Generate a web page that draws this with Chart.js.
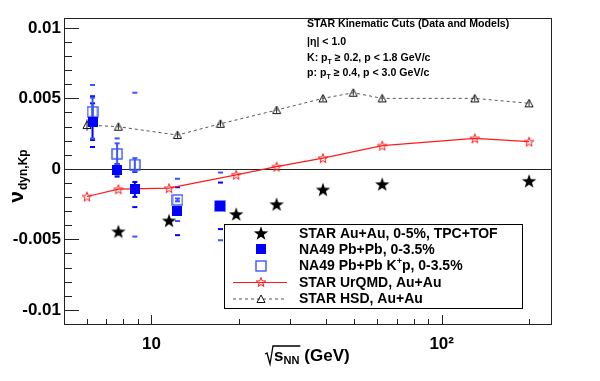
<!DOCTYPE html>
<html>
<head>
<meta charset="utf-8">
<script src="https://cdn.jsdelivr.net/npm/chart.js@4.4.0/dist/chart.umd.min.js"></script>
<style>html,body{margin:0;padding:0;background:#fff;}</style>
</head>
<body>
<canvas id="chart" width="600" height="381"></canvas>
<script>
// STAR Au+Au 0-5% (TPC+TOF)
const starX = [7.7, 11.5, 19.6, 27, 39, 62.4, 200];
const starY = [-0.00443, -0.00366, -0.0032, -0.0025, -0.00146, -0.00108, -0.00085];
const starErr = [0.0003, 0.0002, 0.0002, 0.0001, 0.0001, 0.0001, 0.0001];

// NA49 Pb+Pb 0-3.5%
const na49X = [6.27, 7.62, 8.77, 12.3, 17.3];
const na49Y = [0.00335, -0.0001, -0.00146, -0.0030, -0.00262];
const na49Stat = [0.0013, 0.0003, 0.00053, 0.0001, 0.0001];
const na49Sys = [0.0018, 0.00045, 0.00125, 0.0017, 0.00165];

// NA49 Pb+Pb K+p 0-3.5%
const na49KpY = [0.00405, 0.00106, 0.0003, -0.0022, -0.00266];
const na49KpStat = [0.0010, 0.00075, 0.00046, 0.0001, 0.0001];
const na49KpSys = [0.0019, 0.0011, 0.0051, 0.0015, 0.0024];

// models
const urqmdX = [6.0, 7.7, 11.5, 19.6, 27, 39, 62.4, 130, 200];
const urqmdY = [-0.00196, -0.00144, -0.00137, -0.00042, 0.00016, 0.00076, 0.00165, 0.00217, 0.00193];
const hsdX = [6.0, 7.7, 12.3, 17.3, 27, 39, 49.6, 62.4, 130, 200];
const hsdY = [0.00311, 0.00299, 0.0024, 0.0032, 0.00417, 0.0050, 0.0054, 0.0050, 0.0050, 0.00465];
const hsdErr = [0.0004, 0.0002, 0.0002, 0.0002, 0.0002, 0.0002, 0.0002, 0.0002, 0.0002, 0.0002];

// axes
const xTicks = [5, 6, 7, 8, 9, 10, 20, 30, 40, 50, 60, 70, 80, 90, 100, 200];
const xLabelValues = [10, 100];
const xLabels = ['10', '10\u00b2'];
const yMajor = [-0.01, -0.005, 0, 0.005, 0.01];
const yMajorLabels = ['-0.01', '-0.005', '0', '0.005', '0.01'];
const yMinorStep = 0.001;

const FONT = '"Liberation Sans", Arial, Helvetica, sans-serif';
const BLUE = '#0000ff';
const LBLUE = '#3a55ff';

const pts = (xs, ys) => xs.map((x, i) => ({ x: x, y: ys[i] }));

function markerCanvas(size, draw) {
    const c = document.createElement('canvas');
    c.width = c.height = size;
    draw(c.getContext('2d'), size / 2);
    return c;
}

function starPath(g, cx, cy, R) {
    g.beginPath();
    for (let i = 0; i < 10; i++) {
        const r = i % 2 ? R * 0.4 : R;
        const a = -Math.PI / 2 + i * Math.PI / 5;
        g.lineTo(cx + r * Math.cos(a), cy + r * Math.sin(a) + R * 0.1);
    }
    g.closePath();
}

const blackStar = markerCanvas(16, (g, c) => { starPath(g, c, c, 7.5); g.fillStyle = '#000'; g.fill(); });
const redStar = markerCanvas(12, (g, c) => { starPath(g, c, c, 5); g.strokeStyle = '#ff1a1a'; g.lineWidth = 1; g.stroke(); });
const fullSquare = markerCanvas(10, (g) => { g.fillStyle = BLUE; g.fillRect(0, 0, 10, 10); });
const openSquare = markerCanvas(12, (g) => { g.strokeStyle = LBLUE; g.lineWidth = 1.4; g.strokeRect(1, 1, 10, 10); });
const openTriangle = markerCanvas(10, (g) => {
    g.beginPath(); g.moveTo(5, 1); g.lineTo(9, 8.5); g.lineTo(1, 8.5); g.closePath();
    g.strokeStyle = '#111'; g.lineWidth = 1; g.stroke();
});

// error bars: stat as line with caps, sys as caps only
const errorBars = {
    id: 'errorBars',
    beforeDatasetsDraw(chart) {
        const ctx = chart.ctx, ys = chart.scales.y;
        chart.data.datasets.forEach((ds, di) => {
            if (!ds.errStat) return;
            const meta = chart.getDatasetMeta(di);
            ctx.save();
            ctx.strokeStyle = ds.errColor;
            ctx.fillStyle = ds.errColor;
            meta.data.forEach((el, i) => {
                const v = ds.data[i].y;
                const s = ds.errStat[i];
                const top = ys.getPixelForValue(v + s), bot = ys.getPixelForValue(v - s);
                ctx.lineWidth = ds.errWidth;
                ctx.beginPath(); ctx.moveTo(el.x, top); ctx.lineTo(el.x, bot); ctx.stroke();
                if (ds.errCaps) {
                    ctx.fillRect(el.x - 2.5, top - 1, 5, 2);
                    ctx.fillRect(el.x - 2.5, bot - 1, 5, 2);
                }
                if (ds.errSys) {
                    const e = ds.errSys[i];
                    ctx.fillRect(el.x - 2.5, ys.getPixelForValue(v + e) - 1, 5, 2);
                    ctx.fillRect(el.x - 2.5, ys.getPixelForValue(v - e) - 1, 5, 2);
                }
            });
            ctx.restore();
        });
    }
};

// frame, inner ticks and zero line like a ROOT canvas
const frame = {
    id: 'frame',
    beforeDatasetsDraw(chart) {
        const ctx = chart.ctx, a = chart.chartArea;
        const xs = chart.scales.x, ys = chart.scales.y;
        ctx.save();
        ctx.strokeStyle = '#222';
        ctx.lineWidth = 1;
        const y0 = Math.round(ys.getPixelForValue(0)) + 0.5;
        ctx.beginPath(); ctx.moveTo(a.left, y0); ctx.lineTo(a.right, y0); ctx.stroke();
        ys.ticks.forEach(t => {
            const major = yMajor.some(m => Math.abs(m - t.value) < 1e-9);
            const p = Math.round(ys.getPixelForValue(t.value)) + 0.5;
            ctx.beginPath(); ctx.moveTo(a.left, p); ctx.lineTo(a.left + (major ? 15 : 8), p); ctx.stroke();
        });
        xs.ticks.forEach(t => {
            const major = xLabelValues.indexOf(t.value) >= 0;
            const p = Math.round(xs.getPixelForValue(t.value)) + 0.5;
            ctx.beginPath(); ctx.moveTo(p, a.bottom); ctx.lineTo(p, a.bottom - (major ? 9 : 5)); ctx.stroke();
        });
        ctx.restore();
    },
    afterDatasetsDraw(chart) {
        const ctx = chart.ctx, a = chart.chartArea;
        ctx.save();
        ctx.strokeStyle = '#222';
        ctx.lineWidth = 1;
        ctx.strokeRect(Math.round(a.left) + 0.5, Math.round(a.top) + 0.5,
            Math.round(a.right - a.left), Math.round(a.bottom - a.top));
        ctx.restore();
    }
};

function drawRuns(ctx, x, y, runs) {
    runs.forEach(r => {
        ctx.font = 'bold ' + r.size + 'px ' + FONT;
        ctx.fillText(r.t, x, y + (r.dy || 0));
        x += ctx.measureText(r.t).width + (r.gap || 0);
    });
    return x;
}

function runsWidth(ctx, runs) {
    let w = 0;
    runs.forEach(r => { ctx.font = 'bold ' + r.size + 'px ' + FONT; w += ctx.measureText(r.t).width + (r.gap || 0); });
    return w;
}

const annotations = {
    id: 'annotations',
    afterDraw(chart) {
        const ctx = chart.ctx;
        ctx.save();
        ctx.fillStyle = '#000';
        ctx.textBaseline = 'alphabetic';

        // kinematic cuts text
        const tx = 307, fs = 10.6;
        drawRuns(ctx, tx, 27, [{ t: 'STAR Kinematic Cuts (Data and Models)', size: fs }]);
        drawRuns(ctx, tx, 45, [{ t: '|\u03b7| < 1.0', size: fs }]);
        drawRuns(ctx, tx, 61, [{ t: 'K: p', size: fs }, { t: 'T', size: 7, dy: 3, gap: 3 }, { t: '\u2265 0.2, p < 1.8 GeV/c', size: fs }]);
        drawRuns(ctx, tx, 76, [{ t: 'p: p', size: fs }, { t: 'T', size: 7, dy: 3, gap: 3 }, { t: '\u2265 0.4, p < 3.0 GeV/c', size: fs }]);

        // legend
        const L = 224, T = 224, R = 522, B = 308;
        ctx.fillStyle = '#fff';
        ctx.fillRect(L, T, R - L, B - T);
        ctx.strokeStyle = '#000';
        ctx.lineWidth = 1;
        ctx.strokeRect(L + 0.5, T + 0.5, R - L, B - T);
        const mx = 261, textX = 299;
        const rows = [232.7, 249.3, 265.5, 282, 298.5];
        ctx.strokeStyle = '#ff1a1a';
        ctx.beginPath(); ctx.moveTo(233, rows[3] + 0.5); ctx.lineTo(287, rows[3] + 0.5); ctx.stroke();
        ctx.strokeStyle = '#555';
        ctx.setLineDash([3, 3]);
        ctx.beginPath(); ctx.moveTo(233, rows[4] + 0.5); ctx.lineTo(287, rows[4] + 0.5); ctx.stroke();
        ctx.setLineDash([]);
        [blackStar, fullSquare, openSquare, redStar, openTriangle].forEach((img, i) => {
            ctx.drawImage(img, Math.round(mx - img.width / 2), Math.round(rows[i] - img.height / 2));
        });
        ctx.fillStyle = '#000';
        ctx.textBaseline = 'middle';
        const ls = 14;
        drawRuns(ctx, textX, rows[0] + 1, [{ t: 'STAR Au+Au, 0-5%, TPC+TOF', size: ls }]);
        drawRuns(ctx, textX, rows[1] + 1, [{ t: 'NA49 Pb+Pb, 0-3.5%', size: ls }]);
        drawRuns(ctx, textX, rows[2] + 1, [{ t: 'NA49 Pb+Pb K', size: ls }, { t: '+', size: 9, dy: -5 }, { t: 'p, 0-3.5%', size: ls }]);
        drawRuns(ctx, textX, rows[3] + 1, [{ t: 'STAR UrQMD, Au+Au', size: ls }]);
        drawRuns(ctx, textX, rows[4] + 1, [{ t: 'STAR HSD, Au+Au', size: ls }]);

        // x title: sqrt(s_NN) (GeV)
        ctx.textBaseline = 'alphabetic';
        const bx = 266, by = 361;
        ctx.strokeStyle = '#000';
        ctx.lineWidth = 1.3;
        const sx = bx + 8;
        ctx.font = 'bold 17px ' + FONT;
        const sw = ctx.measureText('s').width;
        ctx.font = 'bold 11px ' + FONT;
        const nw = ctx.measureText('NN').width;
        ctx.beginPath();
        ctx.moveTo(bx - 1, by - 7); ctx.lineTo(bx + 1, by - 8);
        ctx.lineTo(bx + 4, by + 3); ctx.lineTo(bx + 7, by - 15);
        ctx.lineTo(sx + sw + nw + 1, by - 15);
        ctx.stroke();
        drawRuns(ctx, sx, by, [{ t: 's', size: 17 }, { t: 'NN', size: 11, dy: 3, gap: 5 }, { t: '(GeV)', size: 17 }]);

        // y title: nu_dyn,Kp
        ctx.translate(23, 176);
        ctx.rotate(-Math.PI / 2);
        const yRuns = [{ t: '\u03bd', size: 21, gap: 1 }, { t: 'dyn,Kp', size: 12, dy: 4 }];
        drawRuns(ctx, -runsWidth(ctx, yRuns) / 2, 0, yRuns);
        ctx.restore();
    }
};

new Chart(document.getElementById('chart'), {
    type: 'scatter',
    data: {
        datasets: [
            {
                label: 'NA49 Pb+Pb, 0-3.5%',
                data: pts(na49X, na49Y),
                pointStyle: fullSquare,
                errStat: na49Stat, errSys: na49Sys, errColor: BLUE, errWidth: 2, errCaps: true
            },
            {
                label: 'NA49 Pb+Pb K+p, 0-3.5%',
                data: pts(na49X, na49KpY),
                pointStyle: openSquare,
                errStat: na49KpStat, errSys: na49KpSys, errColor: LBLUE, errWidth: 2, errCaps: true
            },
            {
                label: 'STAR Au+Au, 0-5%, TPC+TOF',
                data: pts(starX, starY),
                pointStyle: blackStar,
                errStat: starErr, errColor: '#000', errWidth: 1
            },
            {
                label: 'STAR UrQMD, Au+Au',
                data: pts(urqmdX, urqmdY),
                showLine: true,
                borderColor: '#ff1a1a',
                borderWidth: 1.2,
                pointStyle: redStar
            },
            {
                label: 'STAR HSD, Au+Au',
                data: pts(hsdX, hsdY),
                showLine: true,
                borderColor: '#555',
                borderWidth: 1,
                borderDash: [3, 3],
                pointStyle: openTriangle,
                errStat: hsdErr, errColor: '#222', errWidth: 1
            }
        ]
    },
    options: {
        responsive: false,
        animation: false,
        devicePixelRatio: 1,
        layout: { padding: { left: 0, top: 18, right: 49, bottom: 0 } },
        plugins: { legend: { display: false }, tooltip: { enabled: false } },
        elements: { point: { radius: 5, hoverRadius: 5 }, line: { tension: 0 } },
        scales: {
            x: {
                type: 'logarithmic',
                min: 5,
                max: 238,
                grid: { display: false, drawTicks: false },
                border: { display: false },
                afterBuildTicks: s => { s.ticks = xTicks.map(v => ({ value: v })); },
                afterFit: s => { s.height = 57; },
                ticks: {
                    autoSkip: false,
                    maxRotation: 0,
                    padding: 10,
                    color: '#000',
                    font: { family: FONT, size: 17, weight: 'bold' },
                    callback: v => { const i = xLabelValues.indexOf(v); return i >= 0 ? xLabels[i] : ''; }
                }
            },
            y: {
                min: -0.011,
                max: 0.0107,
                grid: { display: false, drawTicks: false },
                border: { display: false },
                afterBuildTicks: s => {
                    const t = [];
                    for (let k = -11; k <= 10; k++) t.push({ value: k * yMinorStep });
                    s.ticks = t;
                },
                afterFit: s => { s.width = 64; },
                ticks: {
                    autoSkip: false,
                    padding: 3,
                    color: '#000',
                    font: { family: FONT, size: 17, weight: 'bold' },
                    callback: v => {
                        const i = yMajor.findIndex(m => Math.abs(m - v) < 1e-9);
                        return i >= 0 ? yMajorLabels[i] : '';
                    }
                }
            }
        }
    },
    plugins: [frame, errorBars, annotations]
});
</script>
</body>
</html>
